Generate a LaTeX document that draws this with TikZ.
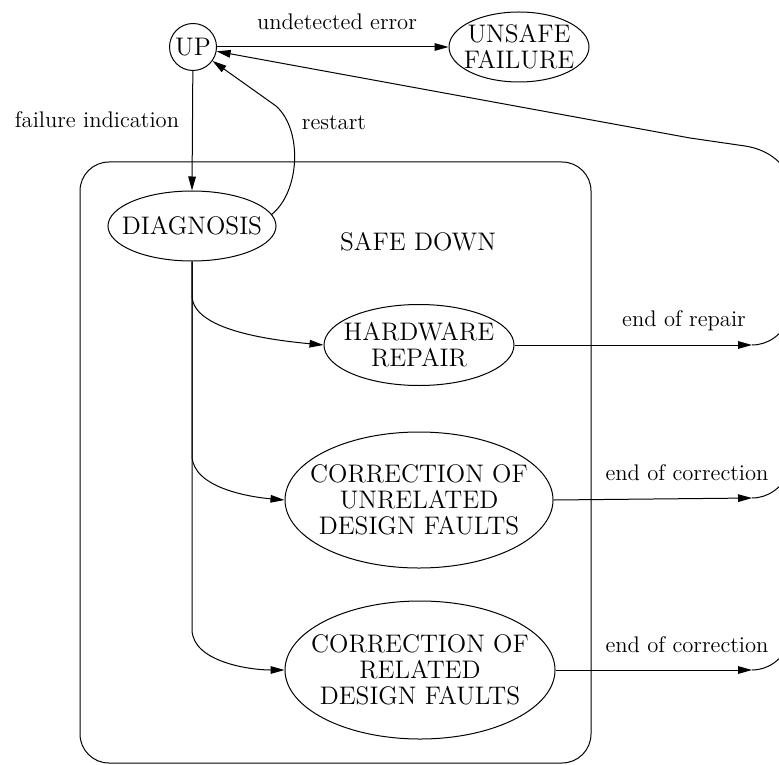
\documentclass[tikz,border=0pt]{standalone}
\usetikzlibrary{arrows.meta,calc}
\begin{document}
\begin{tikzpicture}[x=0.5pt,y=-0.5pt,
  line width=0.5pt,
  nfont/.style={font=\fontsize{12.7}{12.9}\selectfont},
  lfont/.style={font=\fontsize{11.3}{13}\selectfont},
  elbox/.style={nfont, align=center, inner sep=0pt},
  arr/.style={-{Triangle[length=7pt,width=3.8pt]}},
  lbl/.style={lfont, inner sep=0pt}]
\useasboundingbox (0,0) rectangle (779,764);
\clip (0,0) rectangle (779,764);

% container
\node[draw, rounded corners=14.5pt, minimum width=255.5pt, minimum height=300.5pt, inner sep=0pt] (box) at (335.5,462.5) {};
\node[nfont, inner sep=0pt] (sd) at (418,242) {SAFE DOWN};

% states
\node[nfont, circle, draw, minimum size=23.5pt, inner sep=0pt] (up) at (193,47) {UP};
\node[elbox, minimum width=70pt, minimum height=35pt] (unsafe) at (519,47) {UNSAFE\\FAILURE};
\draw (unsafe.center) ellipse [x radius=35pt, y radius=17.5pt];
\node[elbox, minimum width=84pt, minimum height=35pt] (diag) at (192,226) {DIAGNOSIS};
\draw (diag.center) ellipse [x radius=42pt, y radius=17.5pt];
\node[elbox, minimum width=95pt, minimum height=40pt] (hw) at (419,345) {HARDWARE\\REPAIR};
\draw (hw.center) ellipse [x radius=47.5pt, y radius=20.25pt];
\node[elbox, minimum width=134pt, minimum height=68pt] (un) at (419,500) {CORRECTION OF\\UNRELATED\\DESIGN FAULTS};
\draw (un.center) ellipse [x radius=67pt, y radius=34pt];
\node[elbox, minimum width=135pt, minimum height=69pt] (re) at (420,670) {CORRECTION OF\\RELATED\\DESIGN FAULTS};
\draw (re.center) ellipse [x radius=67.5pt, y radius=34.5pt];

% labels
\node[lbl] (l1) at (337,22) {undetected error};
\node[lbl] (l2) at (97,120) {failure indication};
\node[lbl] (l3) at (334,123) {restart};
\node[lbl] (l4) at (684,321) {end of repair};
\node[lbl] (l5) at (687,473) {end of correction};
\node[lbl] (l6) at (687,645) {end of correction};

% connectors
\draw[arr] (up) -- (unsafe.west);
\draw[arr] (up) -- (diag.north);
\coordinate (d1) at ($(diag.center)+(19:42pt and 17.5pt)$);
\draw[arr] (d1) .. controls (300,192) and (303,130) .. (276,106) -- (up);

\draw[arr] (diag.south) -- (192,296) .. controls (193,330) and (270,340) .. (hw.west);
\draw[arr] (diag.south) -- (192,456) .. controls (193,488) and (250,497) .. (un.west);
\draw[arr] (diag.south) -- (192,630) .. controls (193,662) and (250,670) .. (re.west);

\coordinate (r1) at (752,345);
\coordinate (r2) at (752,498);
\coordinate (r3) at (752,670);
\draw[arr] (hw.east) -- (r1);
\draw[arr] (un.east) -- (r2);
\draw[arr] (re.east) -- (r3);
\draw (r1) .. controls (768,345) and (782,335) .. (790,318);
\draw (r2) .. controls (768,498) and (782,488) .. (790,471);
\draw (r3) .. controls (768,670) and (782,660) .. (790,643);

\coordinate (t1) at (790,178);
\coordinate (t2) at (745,146);
\coordinate (t3) at (690,138);
\draw[arr] (t1) .. controls (782,160) and (765,149) .. (t2) -- (t3) -- (up);
\end{tikzpicture}
\end{document}
